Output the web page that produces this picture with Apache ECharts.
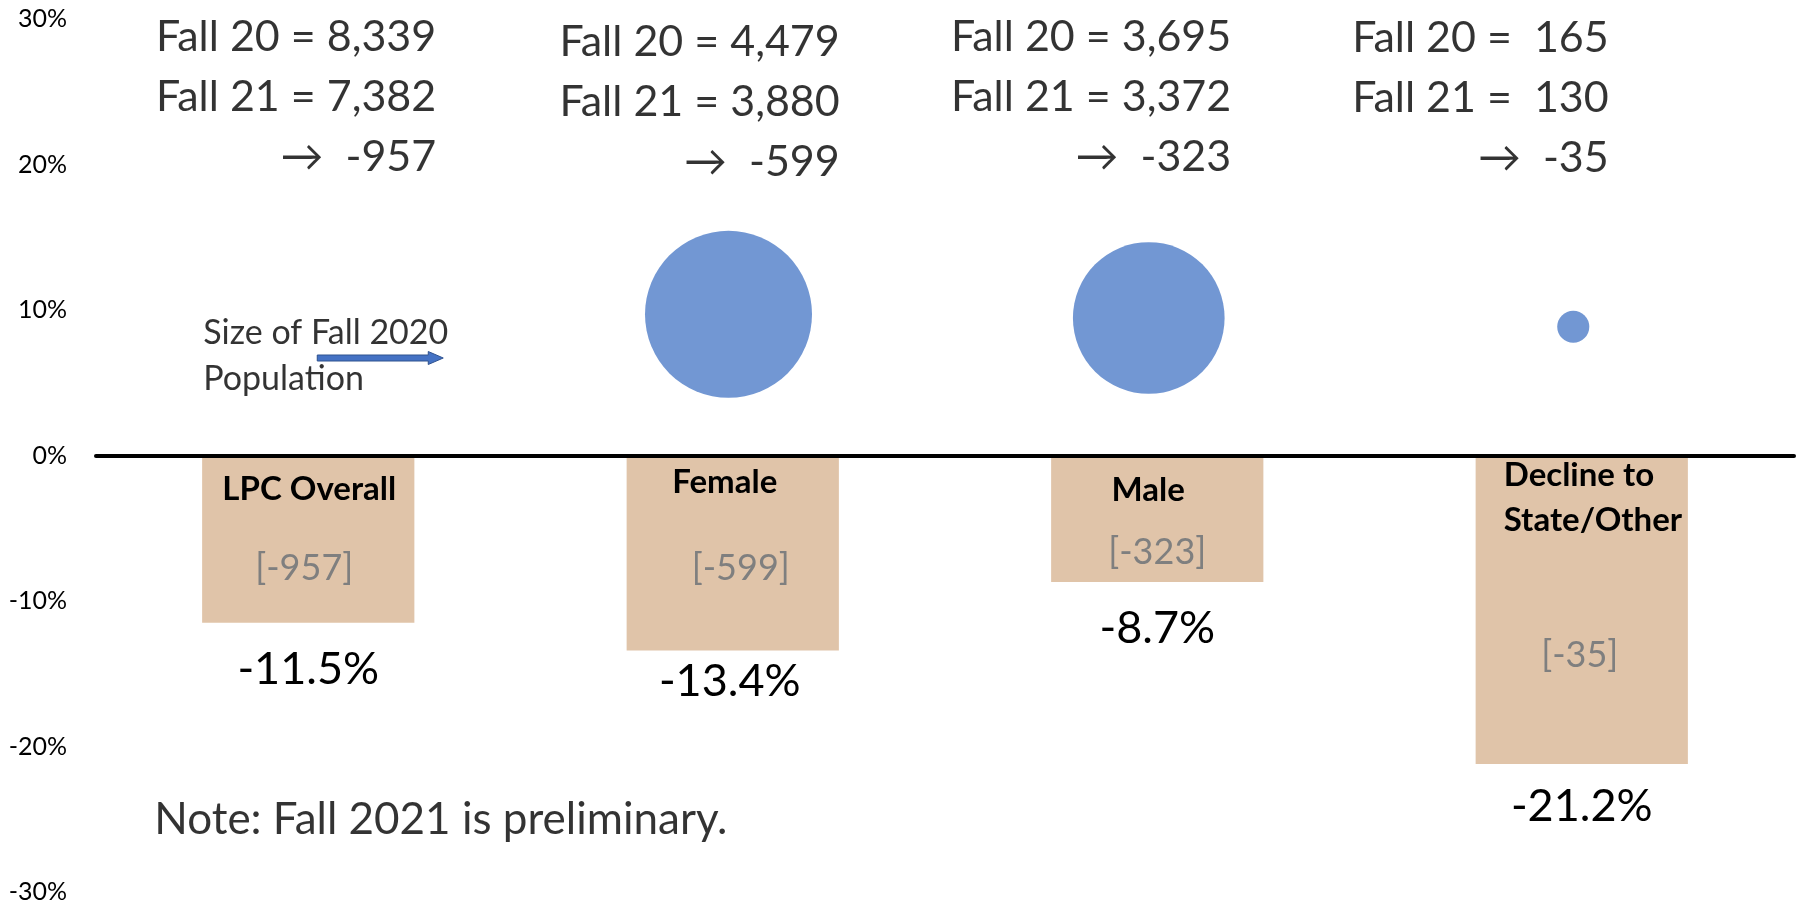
<!DOCTYPE html>
<html><head><meta charset="utf-8">
<script src="https://cdn.jsdelivr.net/npm/echarts@6/dist/echarts.min.js"></script>
<style>html,body{margin:0;padding:0;background:#fff}#c{width:1800px;height:906px}</style>
</head><body><div id="c"></div>
<script>
// ---- data ----
const categories = ['LPC Overall', 'Female', 'Male', 'Decline to\nState/Other'];
const fall20 = [8339, 4479, 3695, 165];
const fall21 = [7382, 3880, 3372, 130];
const pctChange = [-11.5, -13.4, -8.7, -21.2];
const bubbleIdx = [1, 2, 3];           // LPC Overall bubble not drawn
const bubbleX = [0.99, 1.98, 2.98];    // bubble x positions (bubble axis)
const bubbleY = [9.7, 9.45, 8.85];     // % position of bubbles
const yMin = -30, yMax = 30, yStep = 10;
const noteText = 'Note: Fall 2021 is preliminary.';
const bubbleLegendText = 'Size of Fall 2020\nPopulation';

// ---- styles / layout (not data) ----
const FONT = 'Lato, "DejaVu Sans", sans-serif';
const pctOffsets = [[0, 47], [-3, 31], [0, 46], [0, 43]];
const nameOffsets = [[1, 34], [-8, 27], [-9, 35], [-78, 42]];
const countOffsets = [[-4, 113], [8, 113], [0, 97], [-2, 200]];
const topOffsets = [[128, 0], [107, 5], [74, 0], [27, 1]];
const bubbleMaxPx = 167;

const fmt = v => v >= 1000 ? v.toLocaleString('en-US') : ' ' + v;
const chart = echarts.init(document.getElementById('c'));

const invisibleBar = (labelCfg, offsets, formatter) => ({
  type: 'bar', barWidth: '50%', barGap: '-100%', silent: true,
  itemStyle: { color: 'rgba(0,0,0,0)' },
  data: pctChange.map((v, i) => ({
    value: v,
    label: Object.assign({ offset: offsets[i] }, i === 3 && labelCfg.lastAlign ? { align: labelCfg.lastAlign } : {})
  })),
  label: Object.assign({
    show: true, position: ['50%', 0], align: 'center', verticalAlign: 'middle',
    fontFamily: FONT, formatter
  }, labelCfg.style),
  z: 3
});

chart.setOption({
  animation: false,
  grid: { left: 96, right: 6, top: 19, bottom: 14 },
  xAxis: [{
    type: 'category', data: categories,
    axisLine: { onZero: true, lineStyle: { color: '#000', width: 4 } },
    axisTick: { show: false }, axisLabel: { show: false }, splitLine: { show: false }, z: 10
  }, {
    type: 'value', min: -0.5, max: 3.5, show: false, position: 'bottom'
  }],
  yAxis: {
    type: 'value', min: yMin, max: yMax, interval: yStep,
    axisLine: { show: false }, axisTick: { show: false }, splitLine: { show: false },
    axisLabel: { formatter: '{value}%', fontSize: 25, color: '#000', fontFamily: FONT, margin: 29 }
  },
  series: [
    {
      type: 'bar', barWidth: '50%', barGap: '-100%',
      itemStyle: { color: '#E0C4A9' },
      data: pctChange.map((v, i) => ({ value: v, label: { offset: pctOffsets[i] } })),
      label: {
        show: true, position: ['50%', '100%'], align: 'center', verticalAlign: 'middle',
        fontSize: 45, color: '#000', fontFamily: FONT,
        formatter: p => p.value.toFixed(1) + '%'
      },
      z: 2
    },
    invisibleBar({ style: { fontSize: 33, fontWeight: 'bold', color: '#000', lineHeight: 45 }, lastAlign: 'left' },
      nameOffsets, p => categories[p.dataIndex]),
    invisibleBar({ style: { fontSize: 36, color: '#7F7F7F' } },
      countOffsets, p => '[' + (fall21[p.dataIndex] - fall20[p.dataIndex]) + ']'),
    {
      type: 'scatter', silent: true, xAxisIndex: 1,
      data: bubbleIdx.map((c, i) => [bubbleX[i], bubbleY[i], fall20[c]]),
      symbolSize: v => bubbleMaxPx * Math.sqrt(v[2] / Math.max(...bubbleIdx.map(c => fall20[c]))),
      itemStyle: { color: '#7297D3', opacity: 1 },
      z: 4
    },
    {
      type: 'scatter', silent: true, symbolSize: 0,
      data: categories.map((c, i) => ({ value: [i, 24.6], label: { offset: topOffsets[i] } })),
      label: {
        show: true, position: 'inside', align: 'right', verticalAlign: 'middle',
        fontSize: 43, lineHeight: 60, color: '#000', fontFamily: FONT,
        formatter: p => {
          const i = p.dataIndex;
          return 'Fall 20 = ' + fmt(fall20[i]) + '\nFall 21 = ' + fmt(fall21[i]) + '\n\u2192  ' + (fall21[i] - fall20[i]);
        }
      },
      z: 5
    },
    {
      type: 'scatter', silent: true, symbolSize: 0,
      data: [
        { value: [0, 6.84], label: { formatter: bubbleLegendText, fontSize: 34, lineHeight: 46, offset: [-105, 0] } },
        { value: [0, -25.05], label: { formatter: noteText, fontSize: 44, offset: [-154, 0] } }
      ],
      label: { show: true, position: 'inside', align: 'left', verticalAlign: 'middle', color: '#000', fontFamily: FONT },
      z: 5
    }
  ]
});

// blue arrow next to the bubble legend text, anchored to the data scale
const p = chart.convertToPixel({ xAxisIndex: 0, yAxisIndex: 0 }, [0, 6.7]);
const x0 = p[0] + 9, x1 = p[0] + 135, y = p[1];
chart.setOption({
  graphic: [{
    type: 'polygon', z: 20,
    shape: { points: [[x0, y - 3], [x1 - 15, y - 3], [x1 - 15, y - 6.5], [x1, y], [x1 - 15, y + 6.5], [x1 - 15, y + 3], [x0, y + 3]] },
    style: { fill: '#4472C4', stroke: '#2F528F', lineWidth: 1 }
  }]
});
</script></body></html>
